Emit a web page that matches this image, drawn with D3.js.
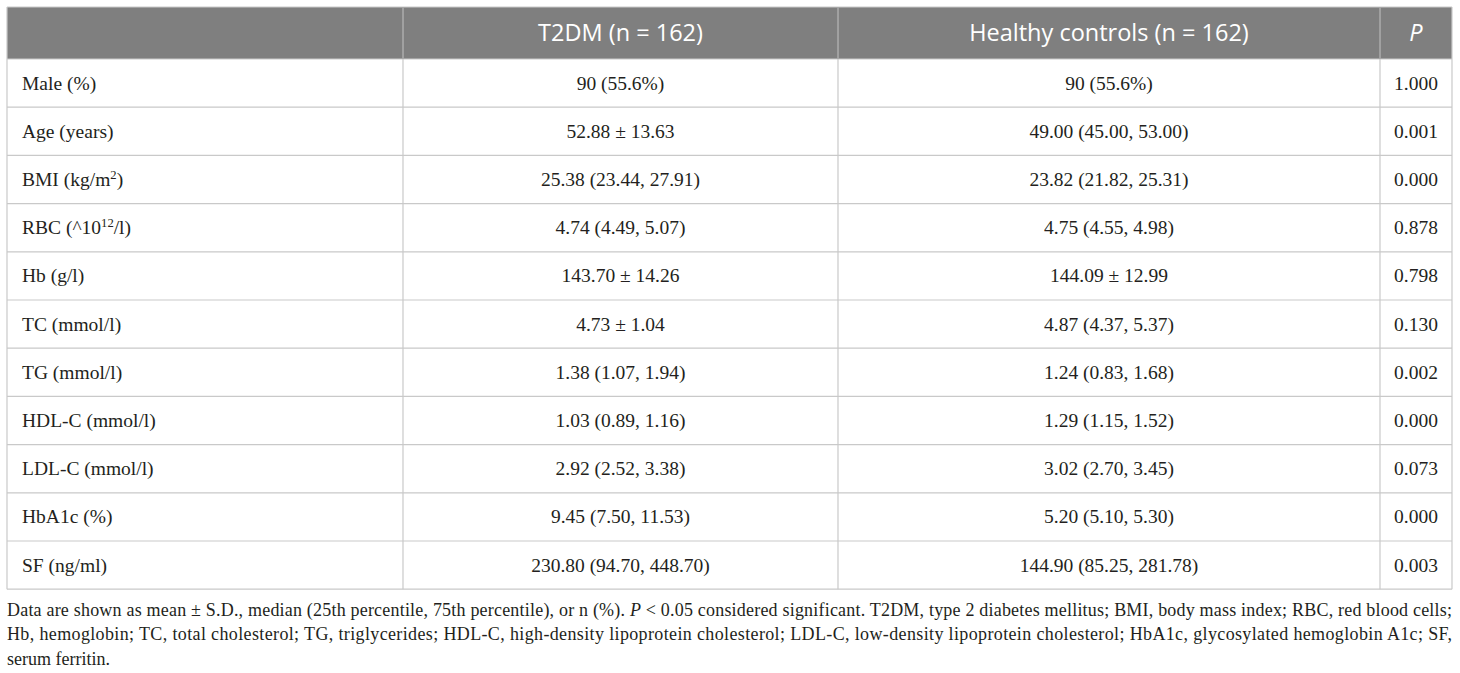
<!DOCTYPE html>
<html><head><meta charset="utf-8">
<script src="https://cdn.jsdelivr.net/npm/d3@7/dist/d3.min.js"></script>
<style>html,body{margin:0;padding:0;background:#fff;}svg{display:block;}</style>
</head><body>
<svg id="c" width="1460" height="673"></svg>
<script>
const headers = ["", "T2DM (n = 162)", "Healthy controls (n = 162)", "P"];
const variables = [
  ["Male (%)"], ["Age (years)"], ["BMI (kg/m", "2", ")"], ["RBC (^10", "12", "/l)"],
  ["Hb (g/l)"], ["TC (mmol/l)"], ["TG (mmol/l)"], ["HDL-C (mmol/l)"],
  ["LDL-C (mmol/l)"], ["HbA1c (%)"], ["SF (ng/ml)"]
];
const t2dm = ["90 (55.6%)", "52.88 ± 13.63", "25.38 (23.44, 27.91)", "4.74 (4.49, 5.07)",
  "143.70 ± 14.26", "4.73 ± 1.04", "1.38 (1.07, 1.94)", "1.03 (0.89, 1.16)",
  "2.92 (2.52, 3.38)", "9.45 (7.50, 11.53)", "230.80 (94.70, 448.70)"];
const controls = ["90 (55.6%)", "49.00 (45.00, 53.00)", "23.82 (21.82, 25.31)", "4.75 (4.55, 4.98)",
  "144.09 ± 12.99", "4.87 (4.37, 5.37)", "1.24 (0.83, 1.68)", "1.29 (1.15, 1.52)",
  "3.02 (2.70, 3.45)", "5.20 (5.10, 5.30)", "144.90 (85.25, 281.78)"];
const pvals = ["1.000", "0.001", "0.000", "0.878", "0.798", "0.130", "0.002", "0.000", "0.073", "0.000", "0.003"];
const footnote = [
  [["Data are shown as mean ± S.D., median (25th percentile, 75th percentile), or n (%). ", false], ["P", true], [" < 0.05 considered significant. T2DM, type 2 diabetes mellitus; BMI, body mass index; RBC, red blood cells;", false]],
  [["Hb, hemoglobin; TC, total cholesterol; TG, triglycerides; HDL-C, high-density lipoprotein cholesterol; LDL-C, low-density lipoprotein cholesterol; HbA1c, glycosylated hemoglobin A1c; SF,", false]],
  [["serum ferritin.", false]]
];

const svg = d3.select("#c");
const L = 7, R = 1452, T = 7, headH = 52, rowH = 48.2;
const colEdges = [L, 403, 838, 1380, R];
const y = d3.scaleBand().domain(d3.range(variables.length)).range([T + headH, T + headH + rowH * variables.length]);
const B = T + headH + rowH * variables.length;
const grid = "#c9c9c9";
const serif = "'Liberation Serif', 'Times New Roman', serif";
const sans = "'Open Sans', 'Noto Sans', sans-serif";
const ink = "#231f20";

svg.append("rect").attr("x", L).attr("y", T).attr("width", R - L).attr("height", headH).attr("fill", "#7f7f7f");
svg.selectAll("line.row").data(d3.range(variables.length + 1)).join("line").attr("class", "row")
  .attr("x1", L).attr("x2", R)
  .attr("y1", i => T + headH + i * rowH).attr("y2", i => T + headH + i * rowH)
  .attr("stroke", grid).attr("stroke-width", 1.2);
svg.append("line").attr("x1", L).attr("x2", R).attr("y1", T).attr("y2", T).attr("stroke", grid).attr("stroke-width", 1.2);
svg.selectAll("line.col").data(colEdges).join("line").attr("class", "col")
  .attr("x1", d => d).attr("x2", d => d).attr("y1", T).attr("y2", B)
  .attr("stroke", grid).attr("stroke-width", 1.2);
svg.selectAll("line.hcol").data(colEdges.slice(1, 4)).join("line").attr("class", "hcol")
  .attr("x1", d => d).attr("x2", d => d).attr("y1", T).attr("y2", T + headH)
  .attr("stroke", "#9a9a9a").attr("stroke-width", 1.2);

const centers = [0,1,2,3].map(i => (colEdges[i] + colEdges[i+1]) / 2);
svg.selectAll("text.h").data(headers).join("text").attr("class", "h")
  .attr("x", (d, i) => centers[i]).attr("y", T + headH / 2).attr("dy", "0.36em")
  .attr("text-anchor", "middle").attr("fill", "#fff")
  .attr("font-family", sans).attr("font-size", 23.5)
  .attr("font-style", (d, i) => i === 3 ? "italic" : "normal")
  .text(d => d);

const fs = 19.5;
const vt = svg.selectAll("text.v").data(variables).join("text").attr("class", "v")
  .attr("x", 22).attr("y", (d, i) => y(i) + rowH / 2).attr("dy", "0.33em")
  .attr("font-family", serif).attr("font-size", fs).attr("fill", ink);
vt.each(function(parts) {
  const t = d3.select(this);
  t.append("tspan").text(parts[0]);
  if (parts.length > 1) {
    t.append("tspan").attr("font-size", fs * 0.65).attr("dy", "-0.55em").text(parts[1]);
    t.append("tspan").attr("dy", "0.36em").text(parts[2]);
  }
});
[t2dm, controls, pvals].forEach((arr, c) => {
  svg.selectAll("text.c" + c).data(arr).join("text").attr("class", "c" + c)
    .attr("x", centers[c + 1]).attr("y", (d, i) => y(i) + rowH / 2).attr("dy", "0.33em")
    .attr("text-anchor", "middle")
    .attr("font-family", serif).attr("font-size", fs).attr("fill", ink)
    .text(d => d);
});

const fy = [616, 640, 665];
footnote.forEach((segs, li) => {
  const t = svg.append("text").attr("x", L).attr("y", fy[li])
    .attr("font-family", serif).attr("font-size", 18).attr("fill", ink);
  if (li < 2) t.attr("textLength", R - L).attr("lengthAdjust", "spacing");
  segs.forEach(s => t.append("tspan").attr("font-style", s[1] ? "italic" : "normal").text(s[0]));
});
</script>
</body></html>
